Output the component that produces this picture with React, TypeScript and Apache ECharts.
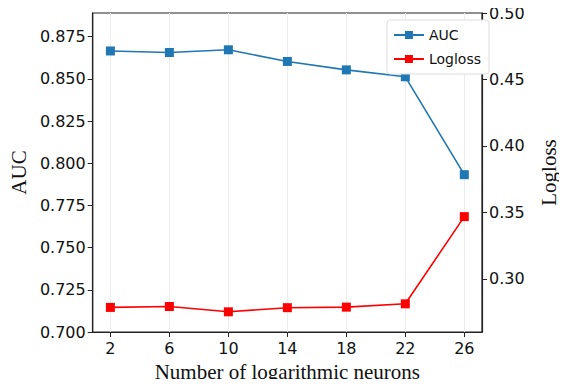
import React, { useEffect, useRef } from "react";
import * as echarts from "echarts";

const neurons = [2, 6, 10, 14, 18, 22, 26];
const auc = [0.8665, 0.8656, 0.8672, 0.8603, 0.8553, 0.8512, 0.7932];
const logloss = [0.2785, 0.2792, 0.2752, 0.2783, 0.2787, 0.2812, 0.3468];
const aucTicks = [0.7, 0.725, 0.75, 0.775, 0.8, 0.825, 0.85, 0.875];
const loglossTicks = [0.3, 0.35, 0.4, 0.45, 0.5];

export default function App() {
  const ref = useRef<HTMLDivElement>(null);
  useEffect(() => {
    if (!ref.current) return;
    const chart = echarts.init(ref.current, undefined, { renderer: "svg" });
    const tickFont = { fontFamily: "DejaVu Sans", fontSize: 16, color: "#111" };
    chart.setOption({
      animation: false,
      backgroundColor: "#fff",
      grid: {
        left: 92,
        right: 71,
        top: 13,
        bottom: 53,
        show: true,
        borderColor: "#222",
        borderWidth: 1.2,
        backgroundColor: "transparent",
      },
      legend: {
        orient: "vertical",
        right: 78,
        top: 20,
        itemWidth: 30,
        itemHeight: 10,
        itemGap: 10,
        padding: [8, 8, 8, 6],
        borderColor: "#ddd",
        borderWidth: 1,
        borderRadius: 3,
        backgroundColor: "#fff",
        textStyle: { fontFamily: "DejaVu Sans", fontSize: 14, color: "#111" },
        data: ["AUC", "Logloss"],
      },
      xAxis: {
        type: "value",
        min: 0.8,
        max: 27.2,
        name: "Number of logarithmic neurons",
        nameLocation: "middle",
        nameGap: 29,
        nameTextStyle: { fontFamily: "Liberation Serif", fontSize: 21, color: "#111" },
        axisLine: { show: true, lineStyle: { color: "#222", width: 1.2 } },
        axisTick: { show: true, inside: false, length: 5, customValues: neurons, lineStyle: { color: "#222" } },
        axisLabel: { ...tickFont, margin: 8, customValues: neurons, formatter: (v: number) => String(v) },
        splitLine: { show: true, lineStyle: { color: "#ececec", width: 1 } },
      },
      yAxis: [
        {
          type: "value",
          min: 0.7,
          max: 0.889,
          position: "left",
          name: "AUC",
          nameLocation: "middle",
          nameGap: 62,
          nameRotate: 90,
          nameTextStyle: { fontFamily: "Liberation Serif", fontSize: 21, color: "#111" },
          axisLine: { show: true, lineStyle: { color: "#222", width: 1.2 } },
          axisTick: { show: true, length: 5, customValues: aucTicks, lineStyle: { color: "#222" } },
          axisLabel: { ...tickFont, margin: 7, customValues: aucTicks, formatter: (v: number) => v.toFixed(3) },
          splitLine: { show: false },
        },
        {
          type: "value",
          min: 0.26,
          max: 0.5,
          position: "right",
          name: "Logloss",
          nameLocation: "middle",
          nameGap: 56,
          nameRotate: 90,
          nameTextStyle: { fontFamily: "Liberation Serif", fontSize: 21, color: "#111" },
          axisLine: { show: true, lineStyle: { color: "#222", width: 1.2 } },
          axisTick: { show: true, length: 5, customValues: loglossTicks, lineStyle: { color: "#222" } },
          axisLabel: { ...tickFont, margin: 7, customValues: loglossTicks, formatter: (v: number) => v.toFixed(2) },
          splitLine: { show: false },
        },
      ],
      series: [
        {
          name: "AUC",
          type: "line",
          yAxisIndex: 0,
          data: neurons.map((n, i) => [n, auc[i]]),
          symbol: "rect",
          symbolSize: 9,
          color: "#1f77b4",
          lineStyle: { width: 1.6, color: "#1f77b4" },
          itemStyle: { color: "#1f77b4" },
        },
        {
          name: "Logloss",
          type: "line",
          yAxisIndex: 1,
          data: neurons.map((n, i) => [n, logloss[i]]),
          symbol: "rect",
          symbolSize: 9,
          color: "#ff0000",
          lineStyle: { width: 1.6, color: "#ff0000" },
          itemStyle: { color: "#ff0000" },
        },
      ],
    });
    return () => chart.dispose();
  }, []);
  return <div ref={ref} style={{ width: 567, height: 387, margin: -8 }} />;
}
